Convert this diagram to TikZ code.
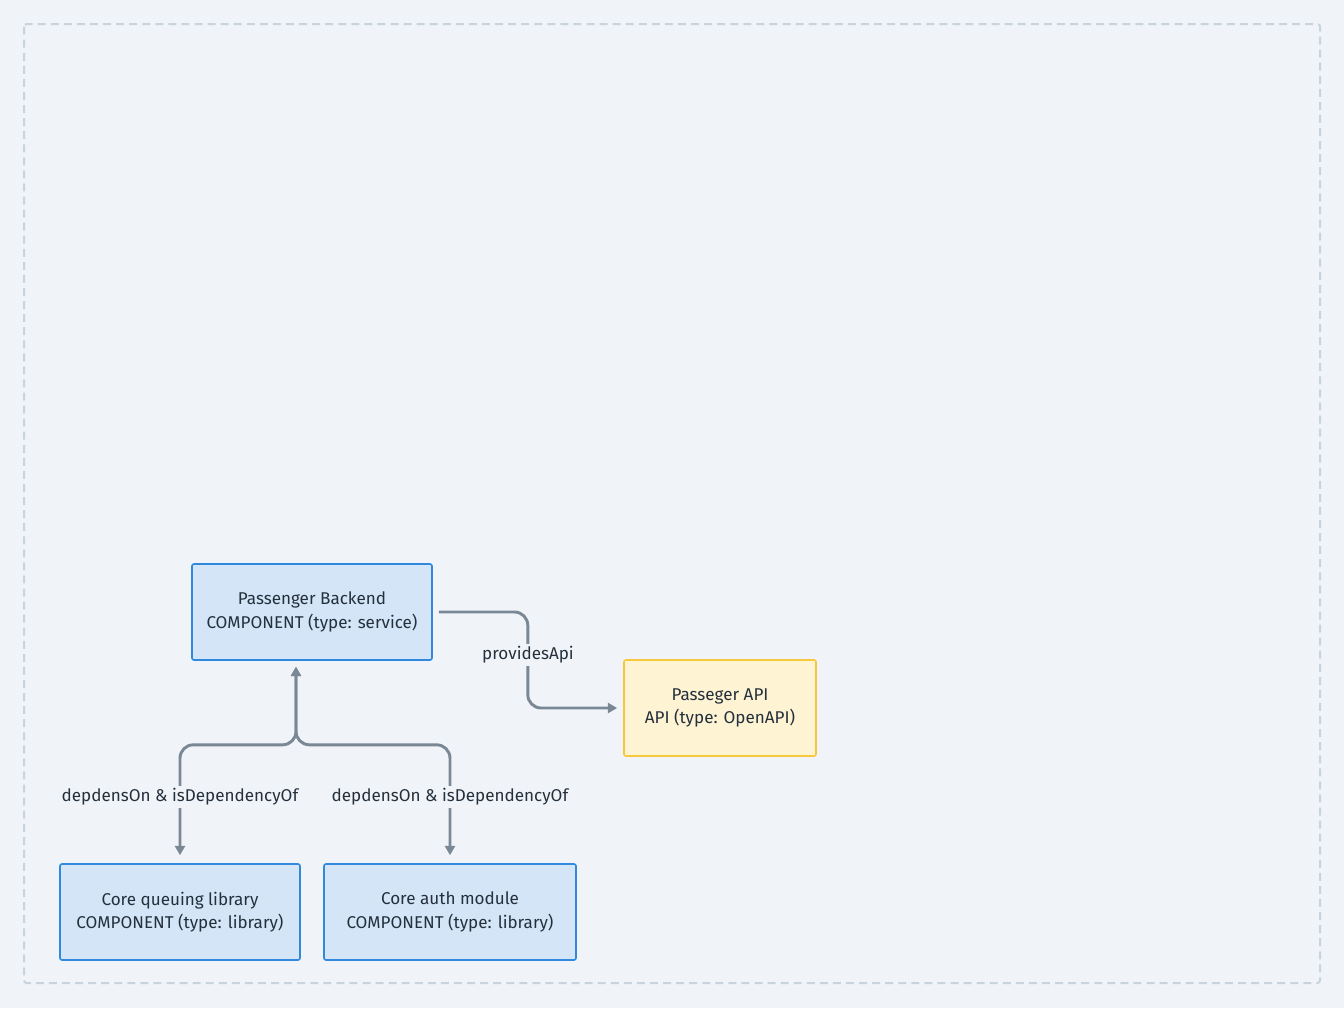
\documentclass[tikz,border=0pt]{standalone}
\usepackage{fontspec}
\setmainfont{Fira Sans}
\usetikzlibrary{arrows.meta}
\definecolor{bgpage}{HTML}{F0F4F8}
\definecolor{framegray}{HTML}{C9D3DD}
\definecolor{compfill}{HTML}{D3E5F6}
\definecolor{compline}{HTML}{3189DD}
\definecolor{apifill}{HTML}{FEF3D3}
\definecolor{apiline}{HTML}{F6C83C}
\definecolor{linkgray}{HTML}{7A8795}
\definecolor{inkdark}{HTML}{25303D}
\begin{document}
\begin{tikzpicture}[x=0.75pt,y=-0.75pt,
  every node/.style={font=\fontsize{12.8pt}{17.5pt}\selectfont, text=inkdark},
  comp/.style={draw=compline, fill=compfill, line width=1.2pt, rounded corners=1.5pt, align=center, inner sep=0pt},
  api/.style={draw=apiline, fill=apifill, line width=1.2pt, rounded corners=1.5pt, align=center, inner sep=0pt},
  link/.style={draw=linkgray, line width=2.2pt, rounded corners=10pt, -{Triangle[length=7pt,width=7.5pt]}},
  biglink/.style={link, {Triangle[length=7pt,width=7.5pt]}-{Triangle[length=7pt,width=7.5pt]}},
  lbl/.style={fill=bgpage, inner sep=2pt}]
\fill [bgpage] (0,0) rectangle (1344,1008);
\draw [framegray, line width=1.5pt, dash pattern=on 6pt off 3.8pt, rounded corners=2pt] (24,24) rectangle (1320,983);
% components
\node [comp, minimum width=180pt, minimum height=72pt] (backend) at (312,612) {Passenger Backend\\COMPONENT (type: service)};
\node [api, minimum width=144pt, minimum height=72pt] (pasapi) at (720,708) {Passeger API\\API (type: OpenAPI)};
\node [comp, minimum width=180pt, minimum height=72pt] (queue) at (180,912) {Core queuing library\\COMPONENT (type: library)};
\node [comp, minimum width=189pt, minimum height=72pt] (auth) at (450,912) {Core auth module\\COMPONENT (type: library)};
% connectors
\draw [link] ([xshift=4.5pt]backend.east) -- ++(89,0) |- ([xshift=-4.5pt]pasapi.west);
\draw [biglink] ([xshift=-12pt,yshift=-4.5pt]backend.south) -- ++(0,78) -| ([yshift=6pt]queue.north);
\draw [biglink] ([xshift=-12pt,yshift=-4.5pt]backend.south) -- ++(0,78) -| ([yshift=6pt]auth.north);
% labels
\node [lbl] (provlbl) at (528,655) {providesApi};
\node [lbl] (qlbl) at (180,797) {depdensOn \& isDependencyOf};
\node [lbl] (albl) at (450,797) {depdensOn \& isDependencyOf};
\end{tikzpicture}
\end{document}
